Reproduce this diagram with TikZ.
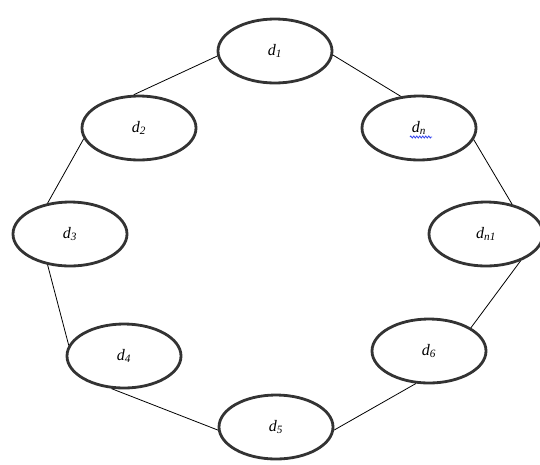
\documentclass[tikz,border=0pt]{standalone}
\usepackage{fontspec}
\setmainfont{Liberation Serif}
\usetikzlibrary{shapes.geometric,decorations.pathmorphing}
\definecolor{ringgray}{HTML}{333333}
\definecolor{spellblue}{HTML}{3344EE}
\tikzset{
  dnode/.style={ellipse, draw=ringgray, line width=2.8pt, fill=white,
    minimum width=114pt, minimum height=64pt, inner sep=0pt,
    font=\fontsize{16}{18}\selectfont\itshape},
  link/.style={draw=black, line width=0.8pt}
}
\newcommand{\dlab}[1]{d\textsubscript{#1}}
\begin{document}
\begin{tikzpicture}[x=1pt,y=-1pt]
\useasboundingbox (0,0) rectangle (540,464);
\node[dnode] (d1)  at (275,51)  {\dlab{1}};
\node[dnode] (d2)  at (139,128) {\dlab{2}};
\node[dnode] (dn)  at (419,128) {\dlab{n}};
\node[dnode] (d3)  at (70,234)  {\dlab{3}};
\node[dnode] (dn1) at (486,234) {\dlab{n1}};
\node[dnode] (d4)  at (124,356) {\dlab{4}};
\node[dnode] (d6)  at (429,351) {\dlab{6}};
\node[dnode] (d5)  at (276,427) {\dlab{5}};
\draw[link] (d2.99)  -- (d1.185);
\draw[link] (d2.191) -- (d3.126);
\draw[link] (d3.234) -- (d4.169);
\draw[link] (d4.249) -- (d5.183);
\draw[link] (d5.357) -- (d6.248);
\draw[link] (d6.29)  -- (dn1.322);
\draw[link] (dn1.49) -- (dn.348);
\draw[link] (dn.120) -- (d1.356);
\coordinate (wa) at ([xshift=-9pt,yshift=-9pt]dn.center);
\coordinate (wb) at ([xshift=13pt,yshift=-9pt]dn.center);
\draw[spellblue, line width=0.8pt, decorate,
  decoration={zigzag, segment length=3pt, amplitude=1pt}] (wa) -- (wb);
\end{tikzpicture}
\end{document}
